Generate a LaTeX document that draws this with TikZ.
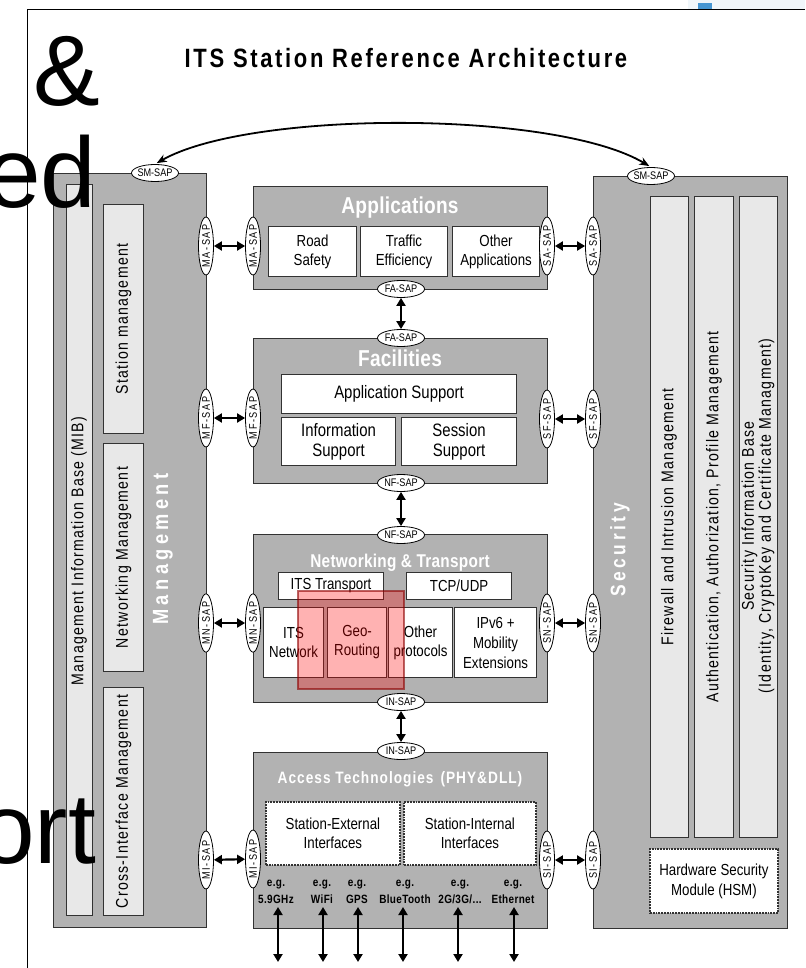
\documentclass[tikz,border=0pt]{standalone}
\usepackage{fontspec}
\setmainfont{Liberation Sans}
\newfontfamily\cond[FakeStretch=0.83]{Liberation Sans}
\usetikzlibrary{arrows.meta,shapes.geometric}

\definecolor{layerfill}{RGB}{178,178,178}
\definecolor{panelfill}{RGB}{232,232,232}
\definecolor{rim}{RGB}{50,50,50}
\definecolor{skyhaze}{RGB}{240,246,250}
\definecolor{tabblue}{RGB}{70,150,210}

% font presets
\newcommand\fBox{\cond\fontsize{16}{19}\selectfont}
\newcommand\fBoxL{\cond\fontsize{18}{20}\selectfont}
\newcommand\fSap{\cond\fontsize{11}{12}\selectfont}
\newcommand\fVSap{\cond\fontsize{11}{12}\selectfont\addfontfeatures{LetterSpace=14}}
\newcommand\fCol{\cond\fontsize{17}{17}\selectfont\addfontfeatures{LetterSpace=7.5}}
\newcommand\fLayer{\cond\bfseries\fontsize{23}{27}\selectfont\addfontfeatures{LetterSpace=1}}
\newcommand\fSide{\cond\bfseries\fontsize{22}{26}\selectfont\addfontfeatures{LetterSpace=20}}
\newcommand\fEg{\cond\bfseries\fontsize{12}{14}\selectfont\addfontfeatures{LetterSpace=3}}

\tikzset{
  layer/.style={draw=rim, fill=layerfill, line width=1.3pt, inner sep=0, anchor=north west},
  panel/.style={draw=rim, fill=panelfill, line width=1.1pt, inner sep=0, anchor=north west},
  wbox/.style={draw=rim, fill=white, line width=1.1pt, inner sep=0, anchor=north west, align=center, font=\fBox},
  dbox/.style={wbox, line width=1.8pt, densely dotted},
  sap/.style={ellipse, draw=black, fill=white, line width=0.8pt, inner sep=-1pt,
    minimum width=47, minimum height=17, font=\fSap},
  vsap/.style={sap, rotate=90, minimum width=58, minimum height=15, font=\fVSap},
  vtext/.style={rotate=90, inner sep=0, font=\fCol, align=center},
  ltitle/.style={anchor=base, inner sep=0, text=white, font=\fLayer},
  dbl/.style={line width=2.2pt, {Triangle[length=8pt,width=9pt]}-{Triangle[length=8pt,width=9pt]}},
  swing/.style={line width=1.8pt, shorten <=2pt, shorten >=2pt,
    {Stealth[length=10pt,width=8pt]}-{Stealth[length=10pt,width=8pt]}},
  eg/.style={anchor=base, inner sep=0, font=\fEg},
  huge/.style={anchor=base west, inner sep=0, font=\fontsize{100}{100}\selectfont}
}

\begin{document}
\begin{tikzpicture}[x=1pt,y=-1pt]
\useasboundingbox (0,0) rectangle (805,968);
\fill[white] (0,0) rectangle (805,968);

% window strip in the top right corner and the slide frame
\fill[skyhaze] (688,0) rectangle (805,9);
\fill[tabblue] (698,3) rectangle (712,10);
\draw[line width=1pt] (27,968) -- (27,10) -- (805,10);

% heading
\node[anchor=base, inner sep=0, font=\cond\bfseries\fontsize{26.5}{30}\selectfont\addfontfeatures{LetterSpace=10}]
  (title) at (406,68) {ITS Station Reference Architecture};

% ---------------- Management column ----------------
\node[layer, minimum width=153, minimum height=754] (mgmt) at (53,173) {};
\node[panel, minimum width=26, minimum height=731] (mib) at (66,184) {};
\node[panel, minimum width=40, minimum height=229] (stmg) at (103,204) {};
\node[panel, minimum width=40, minimum height=228] (nwmg) at (103,443) {};
\node[panel, minimum width=40, minimum height=228] (cimg) at (103,687) {};
\node[vtext] (mibtxt) at (79,551) {Management Information Base (MIB)};
\node[vtext] (sttxt) at (stmg.center) {Station management};
\node[vtext] (nwtxt) at (nwmg.center) {Networking Management};
\node[vtext] (citxt) at (cimg.center) {Cross-Interface Management};
\node[rotate=90, inner sep=0, text=white, font=\fSide] (mgmttxt) at (163,549) {Management};

% ---------------- Security column ----------------
\node[layer, minimum width=194, minimum height=752] (sec) at (593,176) {};
\node[panel, minimum width=38, minimum height=641] (fw) at (650,196) {};
\node[panel, minimum width=39, minimum height=641] (auth) at (694,196) {};
\node[panel, minimum width=38, minimum height=641] (sib) at (739,196) {};
\node[vtext] (fwtxt) at (669,517) {Firewall and Intrusion Management};
\node[vtext] (authtxt) at (714,517) {Authentication, Authorization, Profile Management};
\node[vtext] (sibtxt) at (758,516)
  {Security Information Base\\(Identity, CryptoKey and Certificate Managment)};
\node[dbox, minimum width=128, minimum height=64] (hsm) at (649,848) {Hardware Security\\[1pt]Module (HSM)};
\node[rotate=90, inner sep=0, text=white,
  font=\cond\bfseries\fontsize{21}{25}\selectfont\addfontfeatures{LetterSpace=17}] (sectxt) at (620,550) {Security};

% ---------------- Applications ----------------
\node[layer, minimum width=294, minimum height=103] (app) at (253,186) {};
\node[ltitle] (apptxt) at (400,214) {Applications};
\node[wbox, minimum width=88, minimum height=50] (road) at (268,226) {Road\\Safety};
\node[wbox, minimum width=87, minimum height=50] (traf) at (360,226) {Traffic\\Efficiency};
\node[wbox, minimum width=87, minimum height=50] (oapp) at (452,226) {Other\\Applications};

% ---------------- Facilities ----------------
\node[layer, minimum width=294, minimum height=145] (fac) at (253,338) {};
\node[ltitle] (factxt) at (400,366) {Facilities};
\node[wbox, minimum width=235, minimum height=39, font=\fBoxL] (asup) at (281,374) {Application Support};
\node[wbox, minimum width=114, minimum height=48, font=\fBoxL] (isup) at (281,417) {Information\\Support};
\node[wbox, minimum width=115, minimum height=48, font=\fBoxL] (ssup) at (401,417) {Session\\Support};

% ---------------- Networking & Transport ----------------
\node[layer, minimum width=294, minimum height=168] (net) at (253,534) {};
\node[ltitle, font=\cond\bfseries\fontsize{18.5}{22}\selectfont\addfontfeatures{LetterSpace=1.5}] (nettxt) at (400,567) {Networking \& Transport};
\node[wbox, minimum width=105, minimum height=27] (itst) at (278,572) {ITS Transport};
\node[wbox, minimum width=105, minimum height=27] (tcp) at (406,572) {TCP/UDP};
\node[wbox, minimum width=60, minimum height=70] (itsn) at (263,607) {ITS\\Network};
\node[wbox, minimum width=59, minimum height=70] (geo) at (327,607) {Geo-\\Routing};
\node[wbox, minimum width=64, minimum height=70] (oprot) at (388,607) {Other\\protocols};
\node[wbox, minimum width=82, minimum height=70, font=\cond\fontsize{16}{20}\selectfont] (ipv6) at (454,607) {IPv6 +\\Mobility\\Extensions};

% ---------------- Access Technologies ----------------
\node[layer, minimum width=294, minimum height=176] (acc) at (253,752) {};
\node[ltitle, font=\cond\bfseries\fontsize{16.5}{20}\selectfont\addfontfeatures{LetterSpace=6}] (acctxt) at (400,783)
  {Access Technologies\hspace{7pt}(PHY\&DLL)};
\node[dbox, minimum width=134, minimum height=63] (ext) at (265,801) {Station-External\\Interfaces};
\node[dbox, minimum width=132, minimum height=63] (int) at (403,801) {Station-Internal\\Interfaces};
\foreach \x/\t [count=\i] in {276/5.9GHz, 322/WiFi, 357/GPS, 405/BlueTooth, 460/{2G/3G/...}, 513/Ethernet} {
  \node[eg] (eg\i) at (\x,886) {e.g.};
  \node[eg] (tech\i) at (\x,903) {\t};
}
\foreach \x [count=\i] in {278,323,358,403,458,514} {
  \coordinate (ioA\i) at (\x,907);
  \coordinate (ioB\i) at (\x,962);
  \draw[dbl] (ioA\i) -- (ioB\i);
}

% ---------------- service access points ----------------
\node[sap] (smL) at (155,173) {SM-SAP};
\node[sap] (smR) at (651,176) {SM-SAP};
\node[vsap] (maM) at (206,246) {MA-SAP};
\node[vsap] (maA) at (253,246) {MA-SAP};
\node[vsap] (saA) at (547,246) {SA-SAP};
\node[vsap] (saS) at (593,246) {SA-SAP};
\node[vsap] (mfM) at (206,418) {MF-SAP};
\node[vsap] (mfF) at (253,418) {MF-SAP};
\node[vsap] (sfF) at (547,419) {SF-SAP};
\node[vsap] (sfS) at (593,419) {SF-SAP};
\node[vsap] (mnM) at (206,623) {MN-SAP};
\node[vsap] (mnN) at (253,623) {MN-SAP};
\node[vsap] (snN) at (547,623) {SN-SAP};
\node[vsap] (snS) at (593,623) {SN-SAP};
\node[vsap] (miM) at (206,860) {MI-SAP};
\node[vsap] (miA) at (253,859) {MI-SAP};
\node[vsap] (siA) at (547,860) {SI-SAP};
\node[vsap] (siS) at (593,860) {SI-SAP};
\node[sap] (faA) at (401,289) {FA-SAP};
\node[sap] (faF) at (401,338) {FA-SAP};
\node[sap] (nfF) at (401,483) {NF-SAP};
\node[sap] (nfN) at (401,535) {NF-SAP};
\node[sap] (inN) at (401,702) {IN-SAP};
\node[sap] (inA) at (401,751) {IN-SAP};

% links between the access points
\draw[swing] (smL.north) .. controls (250,110) and (555,110) .. (smR.north);
\draw[dbl] (maM) -- (maA);
\draw[dbl] (saA) -- (saS);
\draw[dbl] (mfM) -- (mfF);
\draw[dbl] (sfF) -- (sfS);
\draw[dbl] (mnM) -- (mnN);
\draw[dbl] (snN) -- (snS);
\draw[dbl] (miM) -- (miA);
\draw[dbl] (siA) -- (siS);
\draw[dbl] (faA) -- (faF);
\draw[dbl] (nfF) -- (nfN);
\draw[dbl] (inN) -- (inA);

% highlight over the routing block
\draw[fill=red, fill opacity=0.3, draw=red!55!black, draw opacity=0.6, line width=1.2pt]
  (298,591) rectangle (404,689);

% slide lettering lying over the left edge
\node[huge] (amp) at (33,106) {\&};
\node[huge] (ed) at (-15,208) {ed};
\node[huge] (ort) at (-21,863) {ort};
\end{tikzpicture}
\end{document}
